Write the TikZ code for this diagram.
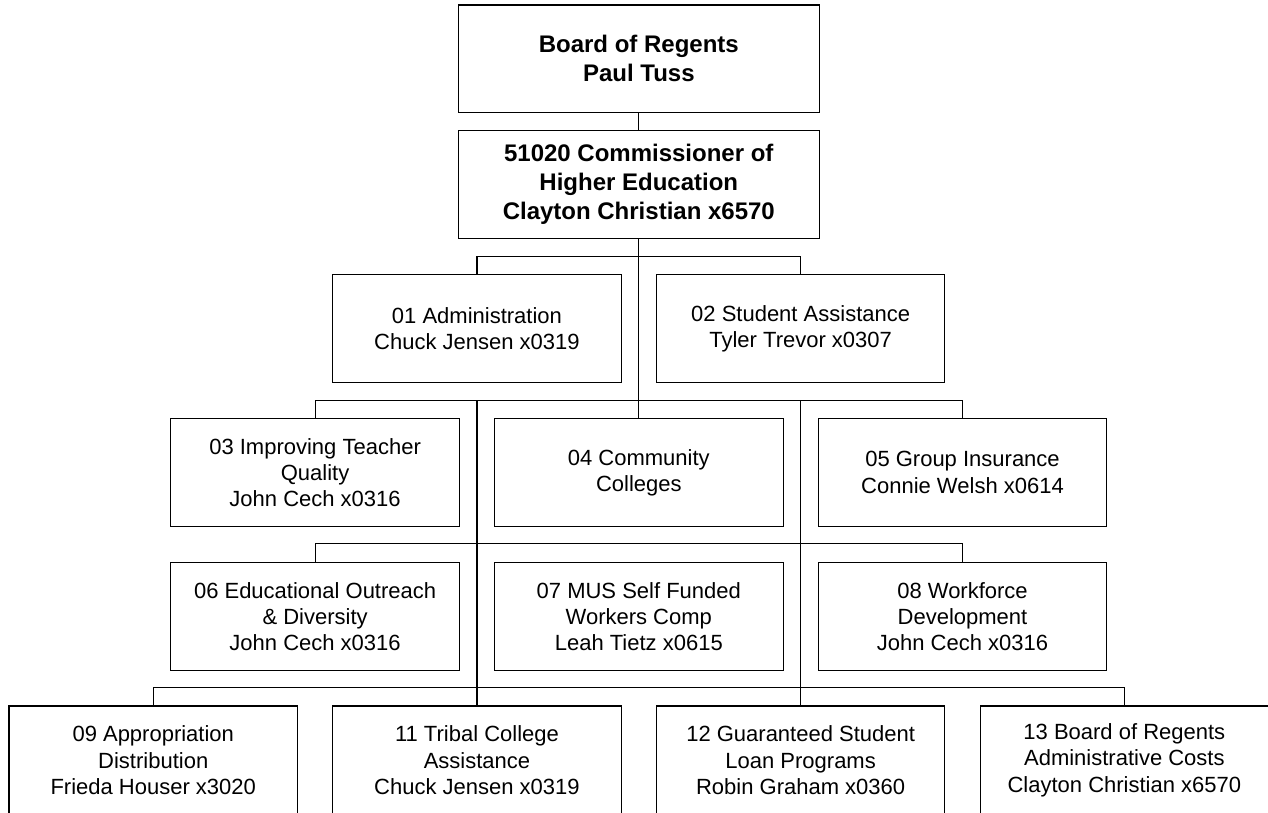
\documentclass[tikz,border=0pt]{standalone}
\usepackage{fontspec}
\setmainfont{Liberation Sans}
\usepackage{tikz}
\usetikzlibrary{positioning}
\usetikzlibrary{calc}

\tikzset{
	unitbox/.style={draw, line width=1.1pt, inner sep=0pt, align=center,
		minimum width=288.5pt, minimum height=108.4pt,
		font=\fontsize{22}{26.3}\selectfont},
	headbox/.style={unitbox, minimum width=361.4pt, minimum height=107.7pt,
		font=\fontsize{24}{29}\selectfont\bfseries},
	wire/.style={line width=1.1pt},
}

\begin{document}
\begin{tikzpicture}[x=1pt, y=-1pt]
	
	% ------------------------------------------------
	% Page is the size of the reference, bottom row runs off it
	\useasboundingbox (0,0) rectangle (1268,813);
	
	% ------------------------------------------------
	% Relevant coordinates
	\coordinate (Head) at (638.8,58.9);
	
	\path (Head) +(0,125.6) coordinate (Comm);
	\path (Comm) +(0,144.0) coordinate (RowA);
	\path (RowA) +(0,144.0) coordinate (RowB);
	\path (RowB) +(0,144.0) coordinate (RowC);
	\path (RowC) +(0,143.7) coordinate (RowD);
	
	%%%%%%%%%%%%%%%%%%%%%%%%%%%%%%%%%%%%%%%%%
	% Boxes
	\node[headbox] (Board) at (Head) {Board of Regents\\Paul Tuss};
	\node[headbox] (Chief) at (Comm) {51020 Commissioner of\\Higher Education\\Clayton Christian x6570};
	
	\node[unitbox] (Adm) at ($(RowA)+(-161.85,0)$) {01 Administration\\Chuck Jensen x0319};
	\node[unitbox] (Stu) at ($(RowA)+(161.85,0)$) {02 Student Assistance\\Tyler Trevor x0307};
	
	\node[unitbox] (Tea) at ($(RowB)+(-323.7,0)$) {03 Improving Teacher\\Quality\\John Cech x0316};
	\node[unitbox] (Col) at (RowB) {04 Community\\Colleges};
	\node[unitbox] (Ins) at ($(RowB)+(323.7,0)$) {05 Group Insurance\\Connie Welsh x0614};
	
	\node[unitbox] (Out) at ($(RowC)+(-323.7,0)$) {06 Educational Outreach\\\& Diversity\\John Cech x0316};
	\node[unitbox] (Wcp) at (RowC) {07 MUS Self Funded\\Workers Comp\\Leah Tietz x0615};
	\node[unitbox] (Wfd) at ($(RowC)+(323.7,0)$) {08 Workforce\\Development\\John Cech x0316};
	
	\node[unitbox] (App) at ($(RowD)+(-485.55,0)$) {09 Appropriation\\Distribution\\Frieda Houser x3020};
	\node[unitbox] (Tri) at ($(RowD)+(-161.85,0)$) {11 Tribal College\\Assistance\\Chuck Jensen x0319};
	\node[unitbox] (Loa) at ($(RowD)+(161.85,0)$) {12 Guaranteed Student\\Loan Programs\\Robin Graham x0360};
	\node[unitbox] (Brc) at ($(RowD)+(485.55,0)$) {13 Board of Regents\\Administrative Costs\\Clayton Christian x6570};
	
	%%%%%%%%%%%%%%%%%%%%%%%%%%%%%%%%%%%%%%%%%
	% Connectors
	\draw[wire] (Board) -- (Chief);
	\draw[wire] (Chief) -- (Col);
	
	\draw[wire] (Adm.north) -- ++(0,-17.6) -| (Stu.north);
	\draw[wire] (Tea.north) -- ++(0,-17.6) coordinate (BusB) -| (Ins.north);
	\draw[wire] (Out.north) -- ++(0,-18.0) -| (Wfd.north);
	\draw[wire] (App.north) -- ++(0,-17.7) -| (Brc.north);
	
	% Long drops down to the bottom row
	\draw[wire] (BusB -| Tri.north) -- (Tri.north);
	\draw[wire] (BusB -| Loa.north) -- (Loa.north);
	
\end{tikzpicture}
\end{document}
